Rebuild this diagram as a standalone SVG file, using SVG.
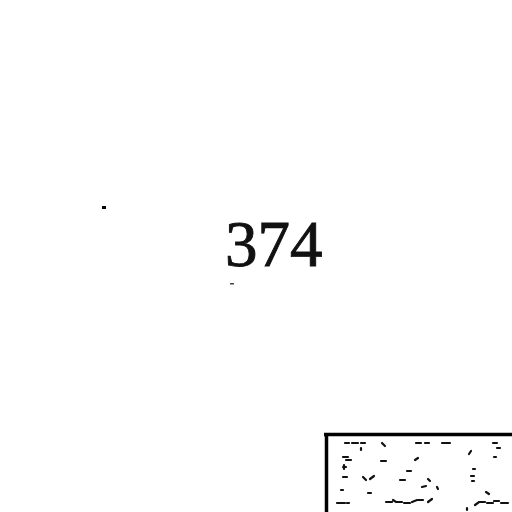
<svg xmlns="http://www.w3.org/2000/svg" width="512" height="512" viewBox="0 0 512 512">
<style>
.num{font-family:"Liberation Serif","Times New Roman",serif;font-size:65px;fill:#111;stroke:#111;stroke-width:0.9}
.ln{stroke:#000;fill:none}
.sp{stroke:#111;stroke-width:2.2;fill:none;stroke-linecap:round}
</style>
<rect width="512" height="512" fill="#fff"/>
<text class="num" x="225" y="266">374</text>
<rect x="102" y="206" width="4" height="3" fill="#000"/>
<rect x="230" y="283" width="4" height="1.5" fill="#444"/>
<g id="table">
<line class="ln" x1="324" y1="434.5" x2="512" y2="434.5" stroke-width="3.5"/>
<line class="ln" x1="326.5" y1="433" x2="326.5" y2="512" stroke-width="3.5"/>
<g class="sp">
<path d="M345 443h4M352 443h6M361 443h4"/>
<path d="M382 443l3 3"/>
<path d="M416 443h5M425 443h4M442 443h8"/>
<path d="M493 443h4"/>
<path d="M361 448v2"/>
<path d="M471 451l-2 3"/>
<path d="M497 448h3"/>
<path d="M343 457h5M346 460h5"/>
<path d="M381 461h5M415 460l3-2"/>
<path d="M494 457h2"/>
<path d="M343 467h3M344 465v4"/>
<path d="M407 471h4"/>
<path d="M473 469h2"/>
<path d="M343 477h4"/>
<path d="M363 477l3 3M370 479l4-3"/>
<path d="M400 480h5M428 479l2 2"/>
<path d="M471 476h3M472 481h2"/>
<path d="M422 487l4-1"/>
<path d="M437 487l1 2"/>
<path d="M341 490h2"/>
<path d="M368 493h3"/>
<path d="M486 492l3 2"/>
<path d="M337 503h8M347 503h2"/>
<path d="M386 502h6M393 500l3 2h6M404 503h6M412 502l5-2h6M428 502l4-3"/>
<path d="M475 505l4-3h6M487 503h6M494 501h5M501 503h7"/>
<path d="M467 508v2"/>
</g>
</g>
</svg>
